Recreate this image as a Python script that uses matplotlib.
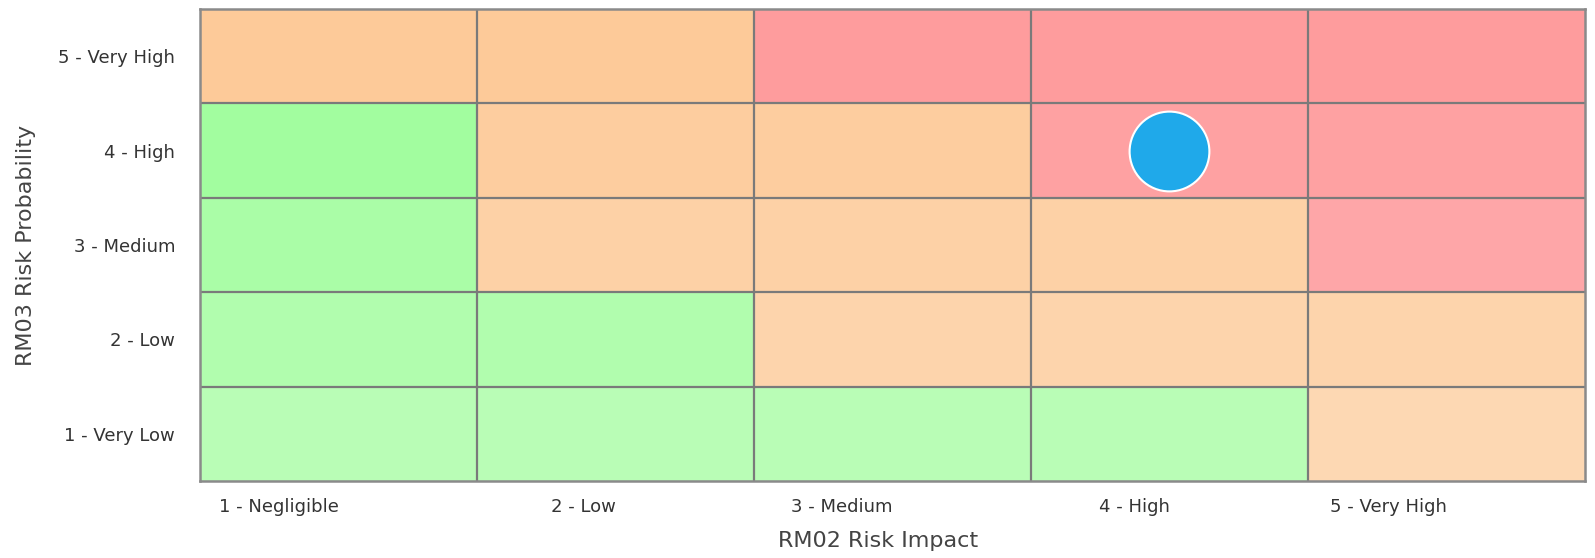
"""Risk matrix: probability vs impact"""

import matplotlib.pyplot as plt
import numpy as np

plt.rcParams["font.family"] = ["DejaVu Sans"]

impact_labels = ["1 - Negligible", "2 - Low", "3 - Medium", "4 - High", "5 - Very High"]
probability_labels = ["1 - Very Low", "2 - Low", "3 - Medium", "4 - High", "5 - Very High"]

# risk level per cell, rows = probability 1..5, cols = impact 1..5 (0 low, 1 medium, 2 high)
risk_levels = [
    [0, 0, 0, 0, 1],
    [0, 0, 1, 1, 1],
    [0, 1, 1, 1, 2],
    [0, 1, 1, 2, 2],
    [1, 1, 2, 2, 2],
]

# the single risk item plotted on the matrix
risk_impact = [4]
risk_probability = [4]

# colours at the bottom row and top row, blended per row
level_bottom = {0: (185, 253, 182), 1: (253, 216, 179), 2: (254, 176, 179)}
level_top = {0: (155, 253, 152), 1: (253, 202, 153), 2: (254, 156, 157)}

levels = np.array(risk_levels)
rgb = np.zeros(levels.shape + (3,))
for r in range(levels.shape[0]):
    t = r / (levels.shape[0] - 1)
    for c in range(levels.shape[1]):
        lo = np.array(level_bottom[levels[r, c]])
        hi = np.array(level_top[levels[r, c]])
        rgb[r, c] = (lo + (hi - lo) * t) / 255

fig = plt.figure(figsize=(15.95, 5.58), dpi=100)
ax = fig.add_axes([0.1254, 0.138, 0.8683, 0.846])

ax.imshow(rgb, origin="lower", extent=(0.5, 5.5, 0.5, 5.5), aspect="auto", interpolation="nearest")
ax.scatter(risk_impact, risk_probability, s=3300, color="#1FA9EA", edgecolor="white",
           linewidth=1.5, zorder=3)

ax.set_xlim(0.5, 5.5)
ax.set_ylim(0.5, 5.5)

edges = np.arange(1.5, 5.5, 1.0)
for e in edges:
    ax.axvline(e, color="#7a7a7a", lw=1.6, zorder=2)
    ax.axhline(e, color="#7a7a7a", lw=1.6, zorder=2)
for spine in ax.spines.values():
    spine.set_color("#8a8a8a")
    spine.set_linewidth(1.8)

ax.set_xticks(range(1, 6))
ax.set_xticklabels(impact_labels, ha="right", fontsize=13, color="#333333")
ax.set_yticks(range(1, 6))
ax.set_yticklabels(probability_labels, fontsize=13, color="#333333")
ax.tick_params(axis="x", length=0, pad=12)
ax.tick_params(axis="y", length=0, pad=18)

fig.text(0.5502, 0.03, "RM02 Risk Impact", ha="center", va="center", fontsize=16, color="#444444")
fig.text(0.016, 0.561, "RM03 Risk Probability", ha="center", va="center", rotation=90,
         fontsize=16, color="#444444")

plt.savefig("out.png")
plt.close()
